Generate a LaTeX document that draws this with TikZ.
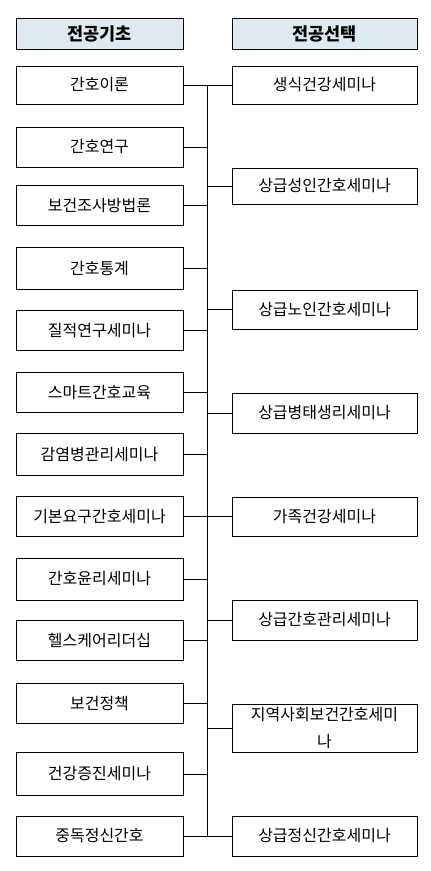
\documentclass[tikz,border=0pt]{standalone}
\usepackage{fontspec}
\setmainfont{Noto Sans CJK KR}
\definecolor{hdrblue}{RGB}{221,234,240}

\begin{document}
\begin{tikzpicture}[x=1pt,y=-1pt,
  box/.style={draw,line width=0.8pt,inner sep=0pt,minimum height=40pt,font=\fontsize{16}{22}\selectfont},
  lbox/.style={box,minimum width=167pt},
  rbox/.style={box,minimum width=185pt},
  hdr/.style={fill=hdrblue,minimum height=31pt,font=\fontsize{17.5}{22}\selectfont\bfseries}]
\useasboundingbox (0,0) rectangle (431,871);

% headers
\node[lbox,hdr] (lhead) at (99.5,33.5) {전공기초};
\node[rbox,hdr] (rhead) at (324.5,33.5) {전공선택};

% left column
\node[lbox,minimum height=38pt] (l1) at (99.5,85) {간호이론};
\node[lbox] (l2) at (99.5,147) {간호연구};
\node[lbox] (l3) at (99.5,205.5) {보건조사방법론};
\node[lbox,minimum height=42pt] (l4) at (99.5,268.5) {간호통계};
\node[lbox] (l5) at (99.5,330.5) {질적연구세미나};
\node[lbox] (l6) at (99.5,392.5) {스마트간호교육};
\node[lbox,minimum height=42pt] (l7) at (99.5,454.5) {감염병관리세미나};
\node[lbox] (l8) at (99.5,516.5) {기본요구간호세미나};
\node[lbox,minimum height=42pt] (l9) at (99.5,579) {간호윤리세미나};
\node[lbox] (l10) at (99.5,640.5) {헬스케어리더십};
\node[lbox] (l11) at (99.5,703.5) {보건정책};
\node[lbox,minimum height=43pt] (l12) at (99.5,774) {건강증진세미나};
\node[lbox] (l13) at (99.5,836) {중독정신간호};

% right column
\node[rbox,minimum height=38pt] (r1) at (324.5,85) {생식건강세미나};
\node[rbox,minimum height=36pt] (r2) at (324.5,186) {상급성인간호세미나};
\node[rbox,minimum height=39pt] (r3) at (324.5,309.5) {상급노인간호세미나};
\node[rbox] (r4) at (324.5,413) {상급병태생리세미나};
\node[rbox,minimum height=39pt] (r5) at (324.5,516.5) {가족건강세미나};
\node[rbox] (r6) at (324.5,620) {상급간호관리세미나};
\node[rbox,minimum height=48pt,align=center,font=\fontsize{16}{27}\selectfont] (r7) at (324.5,728) {지역사회보건간호세미\\나};
\node[rbox] (r8) at (324.5,836) {상급정신간호세미나};

% trunk and branches
\coordinate (ttop) at (207,85);
\coordinate (tbot) at (207,836);
\draw[line width=0.8pt] (ttop) -- (tbot);
\foreach \n in {l1,l2,l3,l4,l5,l6,l7,l8,l9,l10,l11,l12,l13}
  \draw[line width=0.8pt] (\n.east) -- (\n.east -| ttop);
\foreach \n in {r1,r2,r3,r4,r5,r6,r7,r8}
  \draw[line width=0.8pt] (\n.west) -- (\n.west -| ttop);
\end{tikzpicture}
\end{document}
